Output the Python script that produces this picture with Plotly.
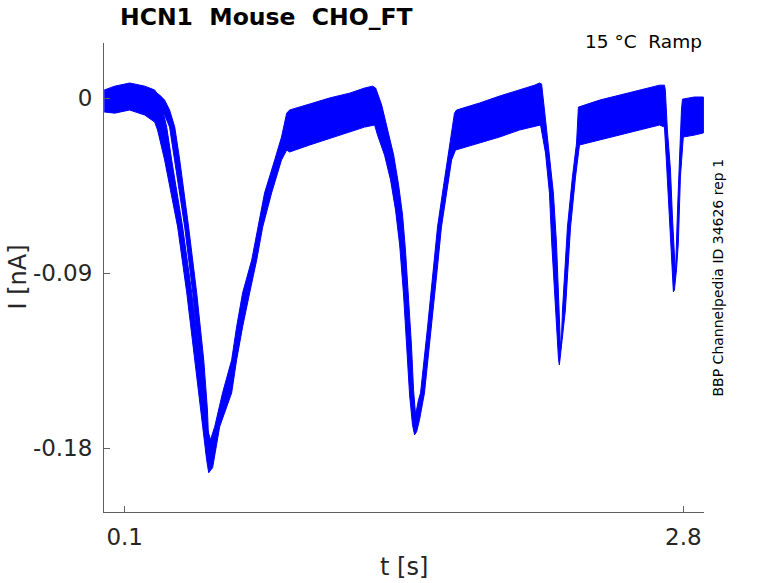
import plotly.graph_objects as go

# main group of sweeps: upper and lower edge of the noisy band (t in s, I in nA)
t_hi = [0.001, 0.052, 0.124, 0.197, 0.245, 0.269, 0.303, 0.327, 0.380, 0.424, 0.462, 0.496,
        0.515, 0.535, 0.573, 0.617, 0.641, 0.670, 0.714, 0.743, 0.776, 0.825, 0.858, 0.883,
        0.897, 0.994, 1.090, 1.187, 1.259, 1.298, 1.313, 1.342, 1.371, 1.400, 1.424, 1.443,
        1.457, 1.472, 1.486, 1.496, 1.506, 1.520, 1.530, 1.564, 1.588, 1.612, 1.636, 1.660,
        1.685, 1.694, 1.704, 1.815, 1.912, 2.008, 2.081, 2.105, 2.115, 2.129, 2.153, 2.172,
        2.187, 2.197, 2.206, 2.211, 2.216, 2.240, 2.264, 2.284, 2.293, 2.395, 2.491, 2.588,
        2.685, 2.709, 2.713, 2.723, 2.738, 2.747, 2.757, 2.762, 2.772, 2.781, 2.791, 2.796,
        2.854, 2.897]
i_hi = [0.0043, 0.0063, 0.0079, 0.0063, 0.0043, 0.0007, -0.0148, -0.0317, -0.0662, -0.1001, -0.1346, -0.1690,
        -0.1757, -0.1690, -0.1516, -0.1346, -0.1176, -0.1001, -0.0832, -0.0662, -0.0487, -0.0317, -0.0199, -0.0076,
        -0.0060, -0.0029, 0.0002, 0.0027, 0.0053, 0.0063, 0.0053, -0.0034, -0.0163, -0.0292, -0.0446, -0.0600,
        -0.0780, -0.1012, -0.1269, -0.1500, -0.1629, -0.1552, -0.1516, -0.1176, -0.0919, -0.0662, -0.0487, -0.0317,
        -0.0163, -0.0076, -0.0060, -0.0024, 0.0012, 0.0043, 0.0068, 0.0079, 0.0074, -0.0060, -0.0281, -0.0487,
        -0.0744, -0.1037, -0.1269, -0.1243, -0.1089, -0.0662, -0.0405, -0.0230, -0.0045, -0.0009, 0.0017, 0.0043,
        0.0068, 0.0068, 0.0043, -0.0163, -0.0369, -0.0600, -0.0832, -0.0909, -0.0574, -0.0317, -0.0060, -0.0004,
        0.0007, 0.0007]

t_lo = [0.001, 0.052, 0.124, 0.197, 0.245, 0.259, 0.293, 0.356, 0.400, 0.438, 0.477, 0.496,
        0.506, 0.525, 0.559, 0.617, 0.641, 0.670, 0.704, 0.738, 0.767, 0.810, 0.858, 0.883,
        0.897, 0.994, 1.090, 1.187, 1.259, 1.308, 1.322, 1.356, 1.385, 1.409, 1.429, 1.448,
        1.462, 1.477, 1.491, 1.501, 1.511, 1.525, 1.549, 1.583, 1.607, 1.631, 1.656, 1.680,
        1.699, 1.815, 1.912, 2.008, 2.110, 2.134, 2.153, 2.164, 2.182, 2.197, 2.201, 2.206,
        2.230, 2.255, 2.279, 2.298, 2.395, 2.491, 2.588, 2.685, 2.709, 2.718, 2.732, 2.742,
        2.752, 2.757, 2.767, 2.776, 2.786, 2.800, 2.854, 2.897]
i_lo = [-0.0070, -0.0076, -0.0060, -0.0086, -0.0122, -0.0163, -0.0317, -0.0662, -0.1001, -0.1346, -0.1690, -0.1860,
        -0.1927, -0.1901, -0.1690, -0.1516, -0.1346, -0.1176, -0.1001, -0.0832, -0.0662, -0.0487, -0.0317, -0.0266,
        -0.0276, -0.0240, -0.0204, -0.0173, -0.0148, -0.0137, -0.0189, -0.0292, -0.0420, -0.0574, -0.0754, -0.1012,
        -0.1269, -0.1526, -0.1680, -0.1732, -0.1716, -0.1654, -0.1516, -0.1176, -0.0919, -0.0662, -0.0487, -0.0317,
        -0.0266, -0.0230, -0.0199, -0.0163, -0.0137, -0.0281, -0.0487, -0.0744, -0.1089, -0.1346, -0.1372, -0.1356,
        -0.1089, -0.0662, -0.0405, -0.0240, -0.0214, -0.0189, -0.0163, -0.0137, -0.0148, -0.0317, -0.0574, -0.0780,
        -0.0996, -0.0986, -0.0883, -0.0744, -0.0405, -0.0199, -0.0189, -0.0178]

# the one later sweep that separates on the first falling edge
tb_hi = [0.221, 0.269, 0.293, 0.317, 0.342, 0.366, 0.409, 0.448, 0.482, 0.500, 0.507]
ib_hi = [0.0052, 0.0017, -0.0009, -0.0060, -0.0148, -0.0317, -0.0662, -0.1001, -0.1346, -0.1603, -0.1800]
tb_lo = [0.221, 0.269, 0.293, 0.317, 0.342, 0.390, 0.429, 0.462, 0.486, 0.499]
ib_lo = [-0.0009, -0.0050, -0.0086, -0.0148, -0.0317, -0.0662, -0.1001, -0.1346, -0.1603, -0.1800]

ytick_vals = [-0.18, -0.09, 0]
ytick_text = ["-0.18", "-0.09", "0"]
xtick_vals = [0.1, 2.8]
xtick_text = ["0.1", "2.8"]

blue = "#0000ff"
ink = "#262626"

fig = go.Figure()
for th, ih, tl, il in [(t_hi, i_hi, t_lo, i_lo), (tb_hi, ib_hi, tb_lo, ib_lo)]:
    fig.add_trace(go.Scatter(
        x=th + tl[::-1], y=ih + il[::-1], mode="lines", fill="toself",
        fillcolor=blue, line=dict(color=blue, width=1), hoverinfo="skip"))

fig.update_layout(
    width=778, height=583,
    margin=dict(l=104, r=74, t=43, b=71),
    plot_bgcolor="white", paper_bgcolor="white",
    showlegend=False,
    font=dict(family="DejaVu Sans", color=ink),
)
fig.update_xaxes(
    range=[0, 2.9], showgrid=False, zeroline=False, automargin=False,
    showline=True, linecolor="#606060", linewidth=1,
    ticks="inside", ticklen=6, tickcolor="#606060",
    tickvals=xtick_vals, ticktext=xtick_text,
    tickfont=dict(size=23, color=ink), ticklabelstandoff=4,
)
fig.update_yaxes(
    range=[-0.2129, 0.0285], showgrid=False, zeroline=False, automargin=False,
    showline=True, linecolor="#606060", linewidth=1,
    ticks="inside", ticklen=6, tickcolor="#606060",
    tickvals=ytick_vals, ticktext=ytick_text,
    tickfont=dict(size=23, color=ink), ticklabelstandoff=6,
)

fig.add_annotation(text="t [s]", xref="paper", yref="paper", x=0.5, y=0,
                   yshift=-55, yanchor="middle", showarrow=False,
                   font=dict(size=24, color=ink))
fig.add_annotation(text="I [nA]", xref="paper", yref="paper", x=0, y=0.5,
                   xshift=-87, xanchor="center", yanchor="middle", textangle=-90,
                   showarrow=False, font=dict(size=24, color=ink))
fig.add_annotation(text="<b>HCN1  Mouse  CHO_FT</b>", xref="paper", yref="paper",
                   x=0.023, y=1.0, xanchor="left", yanchor="bottom", yshift=10,
                   showarrow=False, font=dict(size=23.5, color="black"))
fig.add_annotation(text="15 °C  Ramp", xref="paper", yref="paper",
                   x=1.0, y=1.0, xanchor="right", yanchor="middle", yshift=2,
                   showarrow=False, font=dict(size=18.5, color="black"))
fig.add_annotation(text="BBP Channelpedia ID 34626 rep 1", xref="paper", yref="paper",
                   x=1.0, y=0.5, xanchor="center", yanchor="middle", xshift=13,
                   textangle=-90, showarrow=False, font=dict(size=14, color="black"))

# drop the page's default body margin so the figure fills the window exactly
fig.write_html("out.html", config={"displayModeBar": False},
               post_script="document.body.style.margin = '0';")
